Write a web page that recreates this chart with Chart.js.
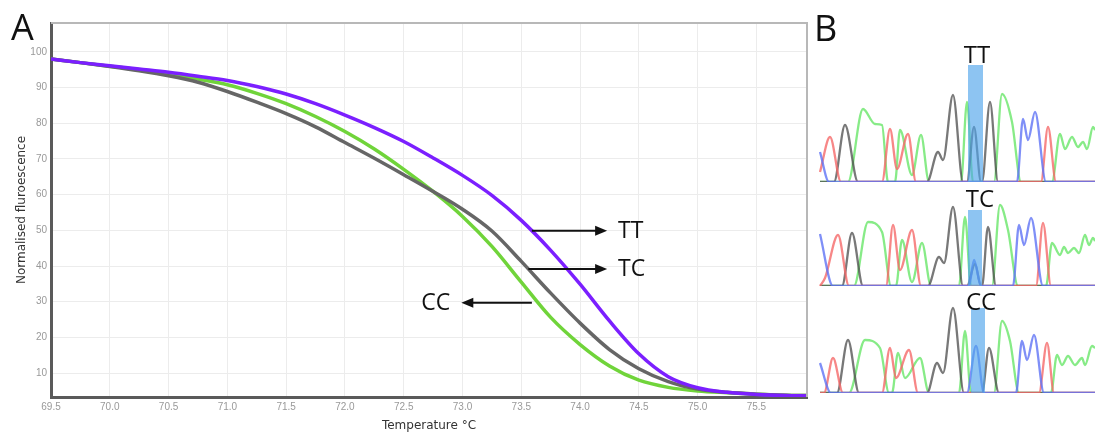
<!DOCTYPE html>
<html>
<head>
<meta charset="utf-8">
<script src="https://cdn.jsdelivr.net/npm/chart.js@4.4.0/dist/chart.umd.min.js"></script>
<style>
  body { margin: 0; background: #fff; width: 1095px; height: 436px; overflow: hidden; position: relative; font-family: "Open Sans", sans-serif; }
  canvas { position: absolute; }
  .panel { position: absolute; font-size: 36px; line-height: 1; color: #111; }
</style>
</head>
<body>
<canvas id="meltChart" width="812" height="436" style="left:0;top:0"></canvas>
<canvas id="seq1" width="280" height="145" style="left:815px;top:40px"></canvas>
<canvas id="seq2" width="280" height="101" style="left:815px;top:188px"></canvas>
<canvas id="seq3" width="280" height="106" style="left:815px;top:290px"></canvas>
<div class="panel" style="left:11px;top:9px">A</div>
<div class="panel" style="left:814px;top:10px">B</div>
<script>
// ---- panel A: melt curves ----
const temps = [69.5, 69.75, 70.0, 70.25, 70.5, 70.75, 71.0, 71.25, 71.5, 71.75, 72.0, 72.25, 72.5, 72.75, 73.0, 73.25, 73.5, 73.75, 74.0, 74.25, 74.5, 74.75, 75.0, 75.25, 75.5, 75.75, 75.93];
const ttValues = [98.0, 97.0, 96.1, 95.2, 94.3, 93.2, 92.0, 90.3, 88.2, 85.5, 82.3, 78.8, 74.9, 70.3, 65.4, 59.8, 52.8, 44.4, 34.9, 24.6, 15.4, 9.0, 5.9, 4.6, 4.0, 3.7, 3.6];
const tcValues = [98.0, 97.0, 95.9, 94.7, 93.3, 91.5, 88.9, 85.9, 82.7, 79.0, 74.6, 70.2, 65.6, 60.9, 55.9, 49.8, 41.3, 32.4, 24.0, 16.6, 11.2, 7.6, 5.5, 4.6, 4.1, 3.8, 3.7];
const ccValues = [98.0, 97.0, 96.0, 95.0, 93.9, 92.4, 90.8, 88.4, 85.5, 81.9, 77.7, 72.8, 67.1, 60.9, 53.9, 45.5, 35.5, 25.6, 18.0, 12.0, 8.0, 6.0, 5.0, 4.5, 4.1, 3.8, 3.7];
const xTickValues = [69.5, 70.0, 70.5, 71.0, 71.5, 72.0, 72.5, 73.0, 73.5, 74.0, 74.5, 75.0, 75.5];
const yTickValues = [10, 20, 30, 40, 50, 60, 70, 80, 90, 100];

// arrows pointing at the curves
const arrowLabels = ["TT", "TC", "CC"];
const arrowY = [49.9, 39.2, 29.7];
const arrowStart = [73.59, 73.56, 73.59];
const arrowEnd = [74.23, 74.23, 72.99];

// ---- panel B: sequencing traces, [position, signal] ----
const seqLabels = ["TT", "TC", "CC"];
const green1 = [[5,0],[33,0],[48,73],[60,58],[67,57],[73,0],[80,0],[85,52],[97,7],[106,47],[114,0],[146,0],[152,80],[158,0],[179,0],[187,88],[197,60],[206,0],[237,0],[245,48],[250,33],[257,45],[263,35],[268,40],[272,33],[278,55],[280,52]];
const blue1 = [[5,30],[14,0],[202,0],[208,63],[213,42],[220,70],[231,0],[280,0]];
const grey1 = [[5,0],[19,0],[30,57],[43,0],[112,0],[123,30],[128,22],[138,87],[148,0],[152,0],[159,55],[166,0],[167,0],[175,80],[183,0],[280,0]];
const red1 = [[5,10],[15,45],[26,0],[67,0],[75,53],[82,13],[93,48],[101,0],[226,0],[233,55],[241,0],[280,0]];

const green2 = [[5,0],[39,0],[53,64],[67,54],[76,0],[81,0],[87,46],[97,4],[107,43],[116,0],[144,0],[150,69],[156,0],[177,0],[185,81],[193,56],[203,0],[231,0],[237,43],[245,31],[249,39],[253,33],[259,38],[264,33],[270,51],[274,41],[278,48],[280,45]];
const blue2 = [[5,52],[18,0],[154,0],[159,26],[166,0],[198,0],[204,61],[209,41],[216,68],[228,0],[280,0]];
const grey2 = [[5,0],[27,0],[37,53],[48,0],[113,0],[124,29],[129,23],[138,79],[148,0],[152,0],[160,22],[166,0],[167,0],[173,59],[181,0],[280,0]];
const red2 = [[5,0],[10,8],[23,51],[34,0],[71,0],[78,61],[85,16],[97,56],[106,0],[221,0],[228,63],[236,0],[280,0]];

const green3 = [[5,0],[34,0],[50,53],[65,45],[74,0],[77,0],[83,40],[90,15],[105,35],[114,0],[144,0],[150,62],[156,0],[179,0],[187,72],[195,52],[204,0],[236,0],[242,38],[247,28],[253,37],[260,28],[267,35],[270,28],[277,47],[280,45]];
const blue3 = [[5,30],[16,0],[152,0],[161,47],[169,0],[201,0],[207,52],[212,33],[219,58],[229,0],[280,0]];
const grey3 = [[5,0],[22,0],[33,53],[44,0],[112,0],[122,30],[128,20],[138,85],[149,0],[167,0],[174,45],[184,0],[280,0]];
const red3 = [[5,0],[9,0],[18,35],[28,0],[67,0],[75,45],[81,15],[94,43],[103,0],[224,0],[232,50],[239,0],[280,0]];

const highlightStart = [153, 153, 156];
const highlightEnd = [168, 167, 170];
const highlightTop = [117, 76, 85];
const labelX = [162, 165, 166];
const labelY = [126, 86, 90];

// frame on top/right of plot
const framePlugin = {
  id: "frame",
  afterDraw(chart) {
    const { ctx, chartArea: a } = chart;
    ctx.save();
    ctx.strokeStyle = "#b8b8b8";
    ctx.lineWidth = 2;
    ctx.beginPath();
    ctx.moveTo(a.left, a.top);
    ctx.lineTo(a.right, a.top);
    ctx.lineTo(a.right, a.bottom);
    ctx.stroke();
    ctx.restore();
  }
};

const arrowPlugin = {
  id: "arrows",
  afterDatasetsDraw(chart) {
    const { ctx, scales: { x, y } } = chart;
    ctx.save();
    ctx.strokeStyle = "#111";
    ctx.fillStyle = "#111";
    ctx.lineWidth = 2;
    ctx.font = '23px "Open Sans"';
    ctx.textBaseline = "middle";
    for (let i = 0; i < arrowLabels.length; i++) {
      const x0 = x.getPixelForValue(arrowStart[i]);
      const x1 = x.getPixelForValue(arrowEnd[i]);
      const py = y.getPixelForValue(arrowY[i]);
      const dir = x1 > x0 ? 1 : -1;
      ctx.beginPath();
      ctx.moveTo(x0, py);
      ctx.lineTo(x1 - dir * 10, py);
      ctx.stroke();
      ctx.beginPath();
      ctx.moveTo(x1, py);
      ctx.lineTo(x1 - dir * 12, py - 5);
      ctx.lineTo(x1 - dir * 12, py + 5);
      ctx.closePath();
      ctx.fill();
      ctx.textAlign = dir > 0 ? "left" : "right";
      ctx.fillText(arrowLabels[i], x1 + dir * 11, py + 1);
    }
    ctx.restore();
  }
};

function toPoints(xs, ys) {
  return xs.map((t, i) => ({ x: t, y: ys[i] }));
}

const meltChart = new Chart(document.getElementById("meltChart"), {
  type: "line",
  data: {
    datasets: [
      { label: "TT", data: toPoints(temps, ttValues), borderColor: "#7b1fff", borderWidth: 3.5 },
      { label: "TC", data: toPoints(temps, tcValues), borderColor: "#666666", borderWidth: 3.5 },
      { label: "CC", data: toPoints(temps, ccValues), borderColor: "#70d43a", borderWidth: 3.5 },
    ],
  },
  options: {
    responsive: false,
    animation: false,
    devicePixelRatio: 1,
    layout: { padding: { top: 23, right: 5, left: 0, bottom: 0 } },
    elements: { point: { radius: 0 }, line: { cubicInterpolationMode: "monotone" } },
    plugins: { legend: { display: false }, tooltip: { enabled: false } },
    scales: {
      x: {
        type: "linear",
        min: 69.5,
        max: 75.93,
        afterBuildTicks: (s) => { s.ticks = xTickValues.map((v) => ({ value: v })); },
        afterFit: (s) => { s.height = 39; },
        ticks: { font: { size: 10, family: "Liberation Sans" }, color: "#999", padding: 4, maxRotation: 0, autoSkip: false, callback: (v) => Number(v).toFixed(1) },
        grid: { color: "#ececec", drawTicks: false },
        border: { color: "#5a5a5a", width: 3 },
        title: { display: true, text: "Temperature °C", font: { size: 12, family: "DejaVu Sans" }, color: "#333", padding: { top: 0, bottom: 2.8 } },
      },
      y: {
        min: 3.3,
        max: 108.1,
        afterBuildTicks: (s) => { s.ticks = yTickValues.map((v) => ({ value: v })); },
        afterFit: (s) => { s.width = 51; },
        ticks: { font: { size: 10, family: "Liberation Sans" }, color: "#999", padding: 4 },
        grid: { color: "#ececec", drawTicks: false },
        border: { color: "#5a5a5a", width: 3 },
        title: { display: true, text: "Normalised fluroescence", font: { size: 12, family: "DejaVu Sans" }, color: "#333", padding: { top: 15, bottom: 0 } },
      },
    },
  },
  plugins: [framePlugin, arrowPlugin],
});

//!----------- panel B ------------------------------------------------------
function highlightPlugin(row) {
  return {
    id: "highlight" + row,
    afterDatasetsDraw(chart) {
      const { ctx, scales: { x, y } } = chart;
      const left = x.getPixelForValue(highlightStart[row]);
      const right = x.getPixelForValue(highlightEnd[row]);
      const top = y.getPixelForValue(highlightTop[row]);
      const bottom = y.getPixelForValue(0);
      ctx.save();
      ctx.fillStyle = "rgba(80, 165, 235, 0.65)";
      ctx.fillRect(left, top, right - left, bottom - top);
      ctx.fillStyle = "#111";
      ctx.font = '24px "Open Sans"';
      ctx.textAlign = "center";
      ctx.textBaseline = "middle";
      ctx.fillText(seqLabels[row], x.getPixelForValue(labelX[row]), y.getPixelForValue(labelY[row]));
      ctx.restore();
    },
  };
}

function pairs(list) {
  return list.map((p) => ({ x: p[0], y: p[1] }));
}

function makeSeqChart(id, row, green, blue, grey, red, yMax) {
  return new Chart(document.getElementById(id), {
    type: "line",
    data: {
      datasets: [
        { data: pairs(blue), borderColor: "rgba(95, 115, 245, 0.8)" },
        { data: pairs(red), borderColor: "rgba(245, 105, 105, 0.8)" },
        { data: pairs(grey), borderColor: "rgba(75, 75, 75, 0.75)" },
        { data: pairs(green), borderColor: "rgba(105, 230, 105, 0.8)" },
      ],
    },
    options: {
      responsive: false,
      animation: false,
      devicePixelRatio: 1,
      layout: { padding: { top: 0, left: 0, right: 0, bottom: 3 } },
      elements: { point: { radius: 0 }, line: { borderWidth: 2.3, cubicInterpolationMode: "monotone" } },
      plugins: { legend: { display: false }, tooltip: { enabled: false } },
      scales: {
        x: { type: "linear", min: 0, max: 280, display: false },
        y: { min: 0, max: yMax, display: false },
      },
    },
    plugins: [highlightPlugin(row)],
  });
}

makeSeqChart("seq1", 0, green1, blue1, grey1, red1, 142);
makeSeqChart("seq2", 1, green2, blue2, grey2, red2, 98);
makeSeqChart("seq3", 2, green3, blue3, grey3, red3, 103);
</script>
</body>
</html>
